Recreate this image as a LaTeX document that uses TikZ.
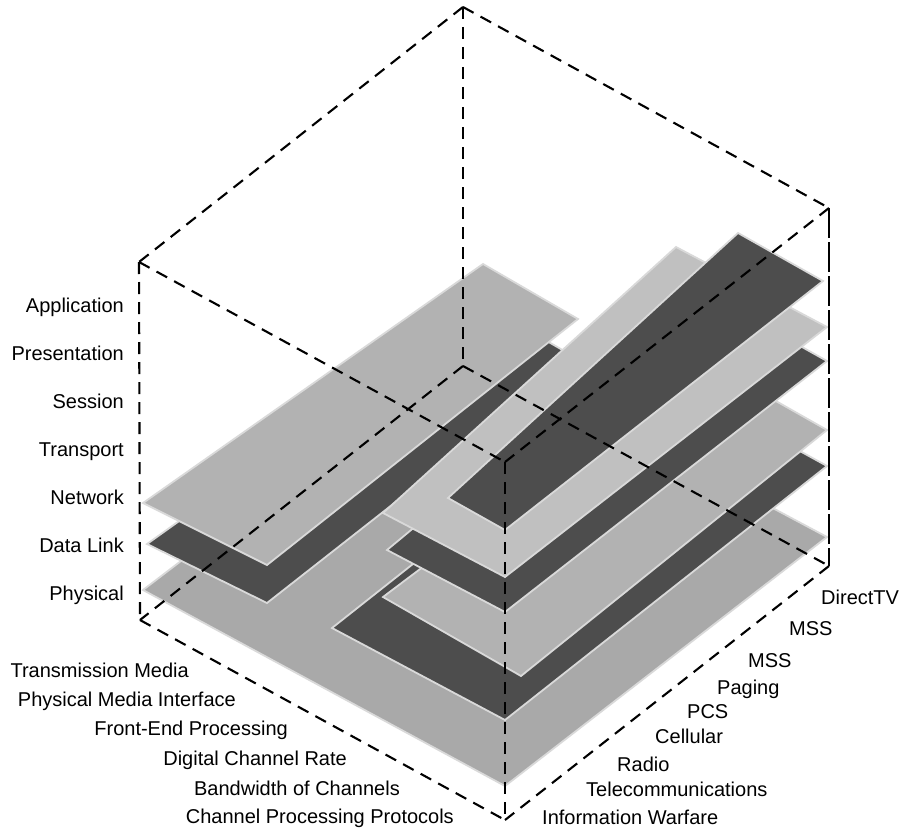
\documentclass[tikz,border=0pt]{standalone}
\usepackage{fontspec}
\setmainfont{Liberation Sans}
\definecolor{dk}{HTML}{4D4D4D}
\definecolor{lt}{HTML}{C0C0C0}
\definecolor{md}{HTML}{B2B2B2}
\definecolor{bt}{HTML}{A9A9A9}
\definecolor{outl}{HTML}{D9D9D9}
\begin{document}
\begin{tikzpicture}[x=1pt,y=-1pt,
  plane/.style={draw=outl, line width=1.8pt, line join=miter},
  cubeedge/.style={draw=black, line width=2.1pt, dash pattern=on 12pt off 8pt},
  longedge/.style={draw=black, line width=2pt, dash pattern=on 30pt off 4pt},
  lbl/.style={font=\fontsize{20}{24}\selectfont, inner sep=0pt}]
\useasboundingbox (0,0) rectangle (901,829);
% cube vertices
\coordinate (A) at (463,7);
\coordinate (B) at (139,262);
\coordinate (C) at (829,208);
\coordinate (D) at (505,462);
\coordinate (A2) at (463,366);
\coordinate (B2) at (140,620);
\coordinate (C2) at (829,566);
\coordinate (D2) at (505,820);
% planes, bottom to top
\fill[bt, plane] (143,590) -- (505,786) -- (827,537) -- (465,344) -- cycle;
\fill[dk, plane] (332,628) -- (505,720) -- (827,466) -- (700,396) -- (418,560) -- cycle;
\fill[md, plane] (383,597) -- (521,676) -- (827,430) -- (700,358) -- cycle;
\fill[dk, plane] (387,550) -- (505,612) -- (827,361) -- (700,290) -- cycle;
\fill[dk, plane] (147,544) -- (267,603) -- (578,359) -- (483,304) -- cycle;
\fill[md, plane] (143,503) -- (267,565) -- (578,319) -- (483,264) -- cycle;
\fill[lt, plane] (383,513) -- (505,577) -- (827,327) -- (676,247) -- cycle;
\fill[dk, plane] (448,498) -- (505,530) -- (823,281) -- (738,233) -- cycle;
% cube edges
\draw[cubeedge] (A) -- (B);
\draw[cubeedge] (A) -- (C);
\draw[cubeedge] (B) -- (D);
\draw[cubeedge] (C) -- (D);
\draw[cubeedge] (A) -- (A2);
\draw[cubeedge] (B) -- (B2);
\draw[longedge] (C) -- (C2);
\draw[cubeedge] (D) -- (D2);
\draw[cubeedge] (A2) -- (B2);
\draw[cubeedge] (A2) -- (C2);
\draw[cubeedge] (B2) -- (D2);
\draw[cubeedge] (C2) -- (D2);
% OSI labels
\node[lbl, anchor=base east] (l1) at (124,312) {Application};
\node[lbl, anchor=base east] (l2) at (124,360) {Presentation};
\node[lbl, anchor=base east] (l3) at (124,408) {Session};
\node[lbl, anchor=base east] (l4) at (124,456) {Transport};
\node[lbl, anchor=base east] (l5) at (124,504) {Network};
\node[lbl, anchor=base east] (l6) at (124,552) {Data Link};
\node[lbl, anchor=base east] (l7) at (124,600) {Physical};
% bottom-left labels
\node[lbl, anchor=base east] (b1) at (189,677) {Transmission Media};
\node[lbl, anchor=base east] (b2) at (236,706) {Physical Media Interface};
\node[lbl, anchor=base east] (b3) at (288,735) {Front-End Processing};
\node[lbl, anchor=base east] (b4) at (347,765) {Digital Channel Rate};
\node[lbl, anchor=base east] (b5) at (400,795) {Bandwidth of Channels};
\node[lbl, anchor=base east] (b6) at (454,823) {Channel Processing Protocols};
% right labels
\node[lbl, anchor=base west] (r1) at (821,604) {DirectTV};
\node[lbl, anchor=base west] (r2) at (789,635) {MSS};
\node[lbl, anchor=base west] (r3) at (748,667) {MSS};
\node[lbl, anchor=base west] (r4) at (717,694) {Paging};
\node[lbl, anchor=base west] (r5) at (687,718) {PCS};
\node[lbl, anchor=base west] (r6) at (655,743) {Cellular};
\node[lbl, anchor=base west] (r7) at (617,771) {Radio};
\node[lbl, anchor=base west] (r8) at (586,796) {Telecommunications};
\node[lbl, anchor=base west] (r9) at (542,824) {Information Warfare};
\end{tikzpicture}
\end{document}
